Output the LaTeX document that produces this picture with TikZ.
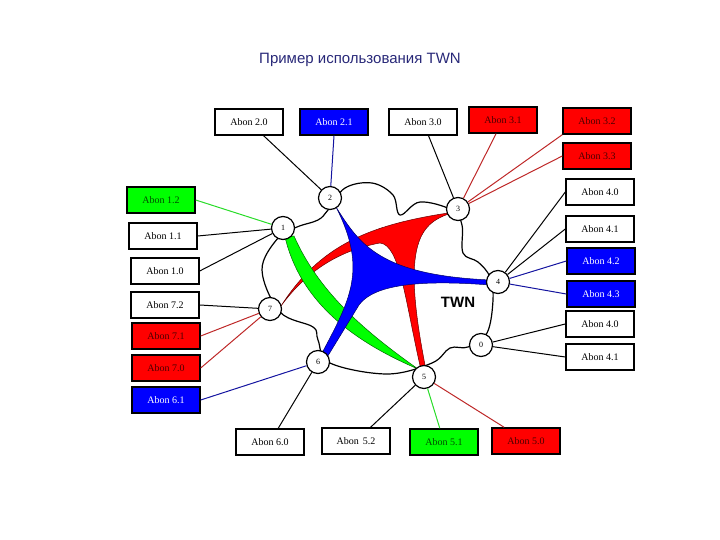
\documentclass[tikz,border=0pt]{standalone}
\usepackage{fontspec}
\setmainfont{Liberation Serif}
\newfontfamily\arialf{Liberation Sans}
\begin{document}
\begin{tikzpicture}[x=1pt,y=-1pt,
 ab/.style={draw=black,line width=1.4pt,minimum width=68pt,minimum height=26pt,inner sep=0pt,font=\fontsize{10}{12}\selectfont,fill=white,text=black},
 abw/.style={ab},
 abr/.style={ab,fill=red,text=black!70!red},
 abb/.style={ab,fill=blue,text=white},
 abg/.style={ab,fill=green,text=black!70!green},
 hub/.style={circle,draw=black,line width=1.2pt,fill=white,minimum size=23pt,inner sep=0pt,font=\fontsize{8}{9}\selectfont},
 bl/.style={draw=black,line width=1pt},
 rl/.style={draw={rgb,255:red,190;green,40;blue,40},line width=1pt},
 bll/.style={draw={rgb,255:red,20;green,20;blue,160},line width=1pt},
 gl/.style={draw={rgb,255:red,40;green,220;blue,40},line width=1pt}]
\useasboundingbox (0,0) rectangle (720,540);
\node[font=\arialf\fontsize{15}{18}\selectfont,text={rgb,255:red,40;green,40;blue,120}] (title) at (360,60) {Пример использования TWN};
% cloud
\draw[line width=1.2pt] plot[smooth cycle,tension=0.6] coordinates{(297,227)(318,220)(328,210)(345,188)(372,183)(393,195)(400,215)(420,202)(452,210)(462,225)(463,253)(478,262)(490,277)(493,300)(487,333)(468,347)(450,348)(432,363)(387,374)(330,363)(318,340)(313,327)(280,312)(262,270)(278,238)};
% wedges
\fill[red,draw=black!60!red,line width=0.5pt] (281,306) .. controls (320,245) and (370,224) .. (455,212) .. controls (420,222) and (400,240) .. (426,370) -- (421,370) .. controls (405,300) and (400,245) .. (380,243) .. controls (330,252) and (300,280) .. (281,306) -- cycle;
\fill[green,draw=black!60!green,line width=0.5pt] (285,237) .. controls (300,300) and (350,340) .. (418,369) .. controls (360,328) and (318,290) .. (294,236) -- cycle;
\fill[blue,draw=black!60!blue,line width=0.5pt] (336,207) .. controls (360,245) and (380,275) .. (490,280) -- (490,285) .. controls (400,278) and (370,290) .. (359,305) -- (326,359) -- (321,355) .. controls (350,300) and (368,270) .. (336,207) -- cycle;
\node[font=\arialf\bfseries\fontsize{15}{18}\selectfont] (twn) at (458,302) {TWN};
% hubs
\node[hub] (n2) at (330,198) {2};
\node[hub] (n1) at (283,228) {1};
\node[hub] (n3) at (458,209) {3};
\node[hub] (n4) at (498,282) {4};
\node[hub] (n7) at (270,309) {7};
\node[hub] (n0) at (481,345) {0};
\node[hub] (n6) at (318,362) {6};
\node[hub] (n5) at (424,377) {5};
% boxes
\node[abw] (a20) at (249,122) {Abon 2.0};
\node[abb] (a21) at (334,122) {Abon 2.1};
\node[abw] (a30) at (423,122) {Abon 3.0};
\node[abr] (a31) at (503,120) {Abon 3.1};
\node[abr] (a32) at (597,121) {Abon 3.2};
\node[abr] (a33) at (597,156) {Abon 3.3};
\node[abw] (a40) at (600,192) {Abon 4.0};
\node[abw] (a41) at (600,229) {Abon 4.1};
\node[abb] (a42) at (601,261) {Abon 4.2};
\node[abb] (a43) at (601,294) {Abon 4.3};
\node[abw] (b40) at (600,324) {Abon 4.0};
\node[abw] (b41) at (600,357) {Abon 4.1};
\node[abg] (a12) at (161,200) {Abon 1.2};
\node[abw] (a11) at (163,236) {Abon 1.1};
\node[abw] (a10) at (165,271) {Abon 1.0};
\node[abw] (a72) at (165,305) {Abon 7.2};
\node[abr] (a71) at (166,336) {Abon 7.1};
\node[abr] (a70) at (166,368) {Abon 7.0};
\node[abb] (a61) at (166,400) {Abon 6.1};
\node[abw] (a60) at (270,442) {Abon 6.0};
\node[abw] (a52) at (356,441) {Abon \,5.2};
\node[abg] (a51) at (444,442) {Abon 5.1};
\node[abr] (a50) at (526,441) {Abon 5.0};
% connectors
\draw[bl] (a20) -- (n2);
\draw[bll] (a21.south) -- (n2);
\draw[bl] (a30) -- (n3);
\draw[rl] (a31) -- (n3);
\draw[rl] (a32.south west) -- (n3);
\draw[rl] (a33.west) -- (n3);
\draw[bl] (a40.west) -- (n4);
\draw[bl] (a41.west) -- (n4);
\draw[bll] (a42.west) -- (n4);
\draw[bll] (a43.west) -- (n4);
\draw[bl] (b40.west) -- (n0);
\draw[bl] (b41.west) -- (n0);
\draw[gl] (a12.east) -- (n1);
\draw[bl] (a11.east) -- (n1);
\draw[bl] (a10.east) -- (n1);
\draw[bl] (a72.east) -- (n7);
\draw[rl] (a71.east) -- (n7);
\draw[rl] (a70.east) -- (n7);
\draw[bll] (a61.east) -- (n6);
\draw[bl] (a60) -- (n6);
\draw[bl] (a52) -- (n5);
\draw[gl] (a51) -- (n5);
\draw[rl] (a50) -- (n5);
\end{tikzpicture}
\end{document}
